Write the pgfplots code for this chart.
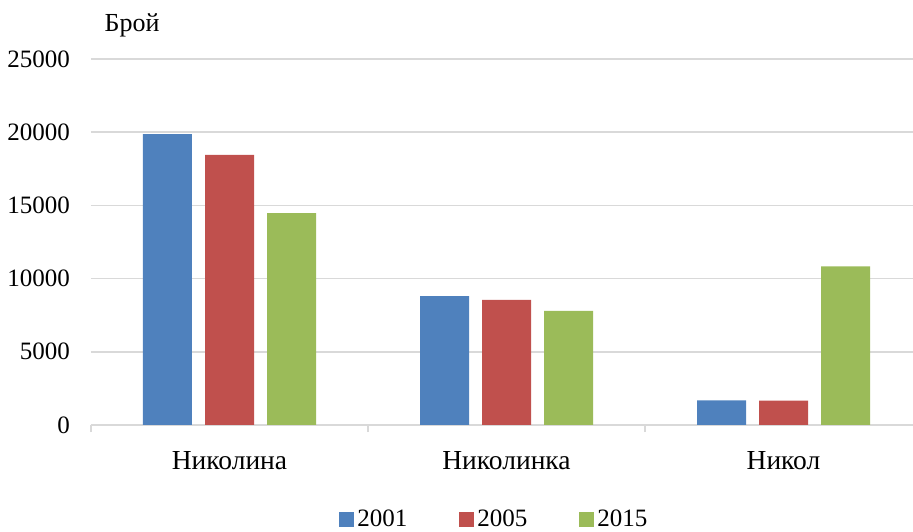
\documentclass[border=0pt]{standalone}
\usepackage{fontspec}
\setmainfont{Liberation Serif}
\usepackage{pgfplots}
\pgfplotsset{compat=1.18}
\definecolor{cblue}{HTML}{4F81BD}
\definecolor{cred}{HTML}{C0504D}
\definecolor{cgreen}{HTML}{9BBB59}
\definecolor{cgrid}{HTML}{D9D9D9}
\begin{document}
\fontsize{24bp}{28bp}\selectfont
\begin{tikzpicture}
\useasboundingbox (0,0) rectangle (913bp,532bp);
\begin{axis}[
  at={(91bp,107bp)}, anchor=south west,
  scale only axis, width=831bp, height=366bp,
  xmin=-0.5, xmax=2.5, ymin=0, ymax=25000,
  ybar=13bp, bar width=49bp,
  xtick={0,1,2}, xticklabels={Николина,Николинка,Никол},
  ytick={0,5000,10000,15000,20000,25000},
  scaled y ticks=false,
  /pgf/number format/1000 sep={},
  /pgf/number format/assume math mode=true,
  yticklabel style={font=\fontsize{25bp}{28bp}\selectfont, xshift=-13bp},
  xticklabel style={font=\fontsize{27.5bp}{30bp}\selectfont, yshift=-14bp},
  xtick style={draw=none}, ytick style={draw=none},
  extra x ticks={-0.5,0.5,1.5,2.5}, extra x tick labels={},
  extra x tick style={grid=none, major tick length=7bp, tick align=outside, xtick style={draw=cgrid, line width=1.5bp}},
  xtick pos=bottom, ytick pos=left,
  ymajorgrids, major grid style={draw=cgrid, line width=1.5bp},
  axis line style={draw=none},
  legend columns=3,
  legend style={draw=none, fill=none, at={(0.486,-0.26)}, anchor=center,
    font=\fontsize{25bp}{28bp}\selectfont, column sep=0bp,
    /tikz/every even column/.append style={column sep=49bp},
    nodes={inner sep=3bp}},
  legend image code/.code={\fill[#1] (0bp,-7bp) rectangle (15bp,8bp);},
]
\addplot[fill=cblue, draw=none] coordinates {(0,19870) (1,8810) (2,1680)};
\addplot[fill=cred, draw=none] coordinates {(0,18450) (1,8540) (2,1660)};
\addplot[fill=cgreen, draw=none] coordinates {(0,14470) (1,7800) (2,10840)};
\legend{2001,2005,2015}
\end{axis}
\node[font=\fontsize{26bp}{28bp}\selectfont] at (132bp,507bp) {Брой};
\end{tikzpicture}
\end{document}
